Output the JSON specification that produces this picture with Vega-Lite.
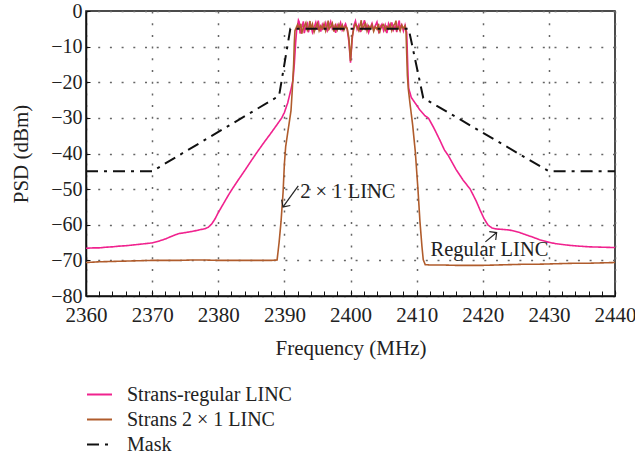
{
  "$schema": "https://vega.github.io/schema/vega-lite/v6.json",
  "width": 529,
  "height": 285,
  "autosize": {"type": "none"},
  "padding": {"left": 86, "top": 11, "right": 20, "bottom": 164},
  "background": "white",
  "config": {
    "font": "Liberation Serif",
    "view": {"stroke": "#111", "strokeWidth": 1.5},
    "axis": {"labelFont": "Liberation Serif", "titleFont": "Liberation Serif", "labelFontSize": 21, "titleFontSize": 21, "labelColor": "#222", "titleColor": "#222", "titleFontWeight": "normal", "labelFlush": false},
    "legend": {"labelFont": "Liberation Serif", "labelFontSize": 20, "labelColor": "#222", "labelLimit": 0},
    "style": {"guide-label": {"font": "Liberation Serif"}, "guide-title": {"font": "Liberation Serif"}}
  },
  "data": {"values": [
    {"series":"Strans-regular LINC","freq":2360,"psd":-66.6},{"series":"Strans-regular LINC","freq":2361,"psd":-66.5},{"series":"Strans-regular LINC","freq":2362,"psd":-66.5},{"series":"Strans-regular LINC","freq":2363,"psd":-66.3},{"series":"Strans-regular LINC","freq":2364,"psd":-66.2},{"series":"Strans-regular LINC","freq":2365,"psd":-66.0},{"series":"Strans-regular LINC","freq":2366,"psd":-65.9},{"series":"Strans-regular LINC","freq":2367,"psd":-65.7},{"series":"Strans-regular LINC","freq":2368,"psd":-65.5},{"series":"Strans-regular LINC","freq":2369,"psd":-65.3},{"series":"Strans-regular LINC","freq":2370,"psd":-65.1},{"series":"Strans-regular LINC","freq":2371,"psd":-64.6},{"series":"Strans-regular LINC","freq":2372,"psd":-64.0},{"series":"Strans-regular LINC","freq":2373,"psd":-63.2},{"series":"Strans-regular LINC","freq":2374,"psd":-62.5},{"series":"Strans-regular LINC","freq":2375,"psd":-62.2},{"series":"Strans-regular LINC","freq":2376,"psd":-61.9},{"series":"Strans-regular LINC","freq":2377,"psd":-61.5},{"series":"Strans-regular LINC","freq":2378,"psd":-61.1},{"series":"Strans-regular LINC","freq":2378.5,"psd":-60.7},{"series":"Strans-regular LINC","freq":2379,"psd":-59.8},{"series":"Strans-regular LINC","freq":2379.5,"psd":-58.4},{"series":"Strans-regular LINC","freq":2380,"psd":-56.6},{"series":"Strans-regular LINC","freq":2380.5,"psd":-55.0},{"series":"Strans-regular LINC","freq":2381,"psd":-53.4},{"series":"Strans-regular LINC","freq":2381.5,"psd":-51.8},{"series":"Strans-regular LINC","freq":2382,"psd":-50.3},{"series":"Strans-regular LINC","freq":2383,"psd":-47.5},{"series":"Strans-regular LINC","freq":2384,"psd":-44.8},{"series":"Strans-regular LINC","freq":2385,"psd":-42.0},{"series":"Strans-regular LINC","freq":2386,"psd":-39.3},{"series":"Strans-regular LINC","freq":2387,"psd":-36.7},{"series":"Strans-regular LINC","freq":2388,"psd":-34.2},{"series":"Strans-regular LINC","freq":2389,"psd":-31.6},{"series":"Strans-regular LINC","freq":2389.6,"psd":-30.0},{"series":"Strans-regular LINC","freq":2390,"psd":-28.5},{"series":"Strans-regular LINC","freq":2390.5,"psd":-25.8},{"series":"Strans-regular LINC","freq":2391,"psd":-22.0},{"series":"Strans-regular LINC","freq":2391.3,"psd":-19.5},{"series":"Strans-regular LINC","freq":2391.5,"psd":-15.0},{"series":"Strans-regular LINC","freq":2391.7,"psd":-9.0},{"series":"Strans-regular LINC","freq":2391.85,"psd":-5.5},
    {"series":"Strans-regular LINC","freq":2392,"psd":-4.2},{"series":"Strans-regular LINC","freq":2392.125,"psd":-2.6},{"series":"Strans-regular LINC","freq":2392.25,"psd":-3.1},{"series":"Strans-regular LINC","freq":2392.375,"psd":-6.3},{"series":"Strans-regular LINC","freq":2392.5,"psd":-5.6},{"series":"Strans-regular LINC","freq":2392.75,"psd":-4.0},{"series":"Strans-regular LINC","freq":2392.875,"psd":-2.9},{"series":"Strans-regular LINC","freq":2393,"psd":-6.2},{"series":"Strans-regular LINC","freq":2393.25,"psd":-4.4},{"series":"Strans-regular LINC","freq":2393.5,"psd":-3.5},{"series":"Strans-regular LINC","freq":2393.625,"psd":-6.0},{"series":"Strans-regular LINC","freq":2393.75,"psd":-5.1},{"series":"Strans-regular LINC","freq":2394,"psd":-4.0},{"series":"Strans-regular LINC","freq":2394.25,"psd":-6.0},{"series":"Strans-regular LINC","freq":2394.5,"psd":-4.6},{"series":"Strans-regular LINC","freq":2394.75,"psd":-3.2},{"series":"Strans-regular LINC","freq":2395,"psd":-5.3},{"series":"Strans-regular LINC","freq":2395.125,"psd":-2.7},{"series":"Strans-regular LINC","freq":2395.25,"psd":-4.1},{"series":"Strans-regular LINC","freq":2395.5,"psd":-5.8},{"series":"Strans-regular LINC","freq":2395.75,"psd":-3.8},{"series":"Strans-regular LINC","freq":2396,"psd":-4.9},{"series":"Strans-regular LINC","freq":2396.25,"psd":-3.4},{"series":"Strans-regular LINC","freq":2396.5,"psd":-5.5},{"series":"Strans-regular LINC","freq":2396.75,"psd":-4.3},{"series":"Strans-regular LINC","freq":2397,"psd":-3.0},{"series":"Strans-regular LINC","freq":2397.25,"psd":-5.0},{"series":"Strans-regular LINC","freq":2397.5,"psd":-4.2},{"series":"Strans-regular LINC","freq":2397.75,"psd":-6.1},{"series":"Strans-regular LINC","freq":2398,"psd":-3.9},{"series":"Strans-regular LINC","freq":2398.25,"psd":-4.8},{"series":"Strans-regular LINC","freq":2398.5,"psd":-3.3},{"series":"Strans-regular LINC","freq":2398.75,"psd":-5.4},{"series":"Strans-regular LINC","freq":2399,"psd":-4.5},{"series":"Strans-regular LINC","freq":2399.25,"psd":-3.6},{"series":"Strans-regular LINC","freq":2399.5,"psd":-5.2},{"series":"Strans-regular LINC","freq":2399.75,"psd":-8.5},{"series":"Strans-regular LINC","freq":2400,"psd":-14.5},{"series":"Strans-regular LINC","freq":2400.25,"psd":-8.0},{"series":"Strans-regular LINC","freq":2400.5,"psd":-4.1},{"series":"Strans-regular LINC","freq":2400.75,"psd":-2.8},{"series":"Strans-regular LINC","freq":2401,"psd":-5.1},{"series":"Strans-regular LINC","freq":2401.25,"psd":-3.9},{"series":"Strans-regular LINC","freq":2401.5,"psd":-5.9},{"series":"Strans-regular LINC","freq":2401.75,"psd":-4.2},{"series":"Strans-regular LINC","freq":2402,"psd":-3.3},{"series":"Strans-regular LINC","freq":2402.125,"psd":-2.6},{"series":"Strans-regular LINC","freq":2402.25,"psd":-5.4},{"series":"Strans-regular LINC","freq":2402.5,"psd":-4.0},{"series":"Strans-regular LINC","freq":2402.75,"psd":-6.0},{"series":"Strans-regular LINC","freq":2403,"psd":-4.6},{"series":"Strans-regular LINC","freq":2403.25,"psd":-3.5},{"series":"Strans-regular LINC","freq":2403.5,"psd":-5.2},{"series":"Strans-regular LINC","freq":2403.75,"psd":-4.1},{"series":"Strans-regular LINC","freq":2404,"psd":-3.1},{"series":"Strans-regular LINC","freq":2404.25,"psd":-5.7},{"series":"Strans-regular LINC","freq":2404.5,"psd":-4.4},{"series":"Strans-regular LINC","freq":2404.75,"psd":-3.7},{"series":"Strans-regular LINC","freq":2405,"psd":-5.5},{"series":"Strans-regular LINC","freq":2405.25,"psd":-4.0},{"series":"Strans-regular LINC","freq":2405.5,"psd":-6.2},{"series":"Strans-regular LINC","freq":2405.75,"psd":-3.6},{"series":"Strans-regular LINC","freq":2406,"psd":-4.8},{"series":"Strans-regular LINC","freq":2406.25,"psd":-3.2},{"series":"Strans-regular LINC","freq":2406.5,"psd":-5.3},{"series":"Strans-regular LINC","freq":2406.75,"psd":-4.2},{"series":"Strans-regular LINC","freq":2407,"psd":-5.9},{"series":"Strans-regular LINC","freq":2407.25,"psd":-3.4},{"series":"Strans-regular LINC","freq":2407.375,"psd":-2.7},{"series":"Strans-regular LINC","freq":2407.5,"psd":-4.9},{"series":"Strans-regular LINC","freq":2407.75,"psd":-3.9},{"series":"Strans-regular LINC","freq":2408,"psd":-5.6},{"series":"Strans-regular LINC","freq":2408.25,"psd":-4.0},
    {"series":"Strans-regular LINC","freq":2408.5,"psd":-6.0},{"series":"Strans-regular LINC","freq":2408.6,"psd":-12.0},{"series":"Strans-regular LINC","freq":2408.7,"psd":-18.0},{"series":"Strans-regular LINC","freq":2408.8,"psd":-21.7},{"series":"Strans-regular LINC","freq":2409.2,"psd":-24.3},{"series":"Strans-regular LINC","freq":2409.8,"psd":-25.9},{"series":"Strans-regular LINC","freq":2410.5,"psd":-27.8},{"series":"Strans-regular LINC","freq":2411.2,"psd":-29.3},{"series":"Strans-regular LINC","freq":2411.8,"psd":-30.1},{"series":"Strans-regular LINC","freq":2412.6,"psd":-32.8},{"series":"Strans-regular LINC","freq":2413.5,"psd":-36.2},{"series":"Strans-regular LINC","freq":2414.2,"psd":-39.0},{"series":"Strans-regular LINC","freq":2414.8,"psd":-40.6},{"series":"Strans-regular LINC","freq":2416,"psd":-44.6},{"series":"Strans-regular LINC","freq":2417,"psd":-47.4},{"series":"Strans-regular LINC","freq":2418.1,"psd":-50.0},{"series":"Strans-regular LINC","freq":2419,"psd":-53.3},{"series":"Strans-regular LINC","freq":2419.6,"psd":-55.9},{"series":"Strans-regular LINC","freq":2420.2,"psd":-58.3},{"series":"Strans-regular LINC","freq":2420.8,"psd":-60.1},{"series":"Strans-regular LINC","freq":2421.4,"psd":-60.9},{"series":"Strans-regular LINC","freq":2422.1,"psd":-61.2},{"series":"Strans-regular LINC","freq":2423,"psd":-61.3},{"series":"Strans-regular LINC","freq":2424.1,"psd":-61.5},{"series":"Strans-regular LINC","freq":2425,"psd":-61.9},{"series":"Strans-regular LINC","freq":2425.6,"psd":-62.2},{"series":"Strans-regular LINC","freq":2426.5,"psd":-62.8},{"series":"Strans-regular LINC","freq":2427.6,"psd":-63.5},{"series":"Strans-regular LINC","freq":2428.6,"psd":-64.2},{"series":"Strans-regular LINC","freq":2429.7,"psd":-64.8},{"series":"Strans-regular LINC","freq":2431,"psd":-65.3},{"series":"Strans-regular LINC","freq":2432.7,"psd":-65.7},{"series":"Strans-regular LINC","freq":2434.5,"psd":-66.0},{"series":"Strans-regular LINC","freq":2436.2,"psd":-66.2},{"series":"Strans-regular LINC","freq":2438,"psd":-66.3},{"series":"Strans-regular LINC","freq":2440,"psd":-66.4},

    {"series":"Strans 2 × 1 LINC","freq":2360,"psd":-70.6},{"series":"Strans 2 × 1 LINC","freq":2362,"psd":-70.4},{"series":"Strans 2 × 1 LINC","freq":2364,"psd":-70.3},{"series":"Strans 2 × 1 LINC","freq":2366,"psd":-70.2},{"series":"Strans 2 × 1 LINC","freq":2368,"psd":-70.1},{"series":"Strans 2 × 1 LINC","freq":2370,"psd":-70.0},{"series":"Strans 2 × 1 LINC","freq":2372,"psd":-70.0},{"series":"Strans 2 × 1 LINC","freq":2374,"psd":-70.0},{"series":"Strans 2 × 1 LINC","freq":2376,"psd":-69.9},{"series":"Strans 2 × 1 LINC","freq":2378,"psd":-69.9},{"series":"Strans 2 × 1 LINC","freq":2380,"psd":-70.0},{"series":"Strans 2 × 1 LINC","freq":2382,"psd":-70.0},{"series":"Strans 2 × 1 LINC","freq":2384,"psd":-70.0},{"series":"Strans 2 × 1 LINC","freq":2386,"psd":-70.0},{"series":"Strans 2 × 1 LINC","freq":2388,"psd":-70.0},{"series":"Strans 2 × 1 LINC","freq":2388.9,"psd":-69.9},{"series":"Strans 2 × 1 LINC","freq":2389.2,"psd":-65.0},{"series":"Strans 2 × 1 LINC","freq":2389.5,"psd":-59.0},{"series":"Strans 2 × 1 LINC","freq":2389.8,"psd":-51.0},{"series":"Strans 2 × 1 LINC","freq":2390.0,"psd":-43.0},{"series":"Strans 2 × 1 LINC","freq":2390.2,"psd":-38.0},{"series":"Strans 2 × 1 LINC","freq":2390.6,"psd":-33.0},{"series":"Strans 2 × 1 LINC","freq":2391.0,"psd":-28.0},{"series":"Strans 2 × 1 LINC","freq":2391.2,"psd":-22.0},{"series":"Strans 2 × 1 LINC","freq":2391.4,"psd":-15.0},{"series":"Strans 2 × 1 LINC","freq":2391.5,"psd":-9.0},{"series":"Strans 2 × 1 LINC","freq":2391.6,"psd":-5.5},
    {"series":"Strans 2 × 1 LINC","freq":2392,"psd":-3.8},{"series":"Strans 2 × 1 LINC","freq":2392.25,"psd":-5.0},{"series":"Strans 2 × 1 LINC","freq":2392.5,"psd":-3.6},{"series":"Strans 2 × 1 LINC","freq":2392.625,"psd":-6.4},{"series":"Strans 2 × 1 LINC","freq":2392.75,"psd":-5.4},{"series":"Strans 2 × 1 LINC","freq":2393,"psd":-4.3},{"series":"Strans 2 × 1 LINC","freq":2393.25,"psd":-3.3},{"series":"Strans 2 × 1 LINC","freq":2393.5,"psd":-5.7},{"series":"Strans 2 × 1 LINC","freq":2393.75,"psd":-4.1},{"series":"Strans 2 × 1 LINC","freq":2393.875,"psd":-2.8},{"series":"Strans 2 × 1 LINC","freq":2394,"psd":-5.2},{"series":"Strans 2 × 1 LINC","freq":2394.25,"psd":-3.7},{"series":"Strans 2 × 1 LINC","freq":2394.5,"psd":-5.9},{"series":"Strans 2 × 1 LINC","freq":2394.75,"psd":-4.5},{"series":"Strans 2 × 1 LINC","freq":2395,"psd":-3.5},{"series":"Strans 2 × 1 LINC","freq":2395.25,"psd":-5.5},{"series":"Strans 2 × 1 LINC","freq":2395.5,"psd":-4.2},{"series":"Strans 2 × 1 LINC","freq":2395.75,"psd":-5.0},{"series":"Strans 2 × 1 LINC","freq":2396,"psd":-3.6},{"series":"Strans 2 × 1 LINC","freq":2396.25,"psd":-5.6},{"series":"Strans 2 × 1 LINC","freq":2396.5,"psd":-4.0},{"series":"Strans 2 × 1 LINC","freq":2396.625,"psd":-2.7},{"series":"Strans 2 × 1 LINC","freq":2396.75,"psd":-5.1},{"series":"Strans 2 × 1 LINC","freq":2397,"psd":-4.4},{"series":"Strans 2 × 1 LINC","freq":2397.25,"psd":-3.4},{"series":"Strans 2 × 1 LINC","freq":2397.5,"psd":-5.8},{"series":"Strans 2 × 1 LINC","freq":2397.75,"psd":-4.0},{"series":"Strans 2 × 1 LINC","freq":2398,"psd":-5.3},{"series":"Strans 2 × 1 LINC","freq":2398.25,"psd":-3.8},{"series":"Strans 2 × 1 LINC","freq":2398.5,"psd":-5.0},{"series":"Strans 2 × 1 LINC","freq":2398.75,"psd":-3.9},{"series":"Strans 2 × 1 LINC","freq":2399,"psd":-5.4},{"series":"Strans 2 × 1 LINC","freq":2399.25,"psd":-4.3},{"series":"Strans 2 × 1 LINC","freq":2399.5,"psd":-4.9},{"series":"Strans 2 × 1 LINC","freq":2399.75,"psd":-7.5},{"series":"Strans 2 × 1 LINC","freq":2400,"psd":-14.0},{"series":"Strans 2 × 1 LINC","freq":2400.25,"psd":-7.2},{"series":"Strans 2 × 1 LINC","freq":2400.5,"psd":-5.0},{"series":"Strans 2 × 1 LINC","freq":2400.75,"psd":-3.6},{"series":"Strans 2 × 1 LINC","freq":2401,"psd":-4.4},{"series":"Strans 2 × 1 LINC","freq":2401.25,"psd":-5.5},{"series":"Strans 2 × 1 LINC","freq":2401.5,"psd":-3.7},{"series":"Strans 2 × 1 LINC","freq":2401.625,"psd":-2.6},{"series":"Strans 2 × 1 LINC","freq":2401.75,"psd":-5.2},{"series":"Strans 2 × 1 LINC","freq":2402,"psd":-4.3},{"series":"Strans 2 × 1 LINC","freq":2402.25,"psd":-3.5},{"series":"Strans 2 × 1 LINC","freq":2402.5,"psd":-5.6},{"series":"Strans 2 × 1 LINC","freq":2402.75,"psd":-4.2},{"series":"Strans 2 × 1 LINC","freq":2403,"psd":-5.0},{"series":"Strans 2 × 1 LINC","freq":2403.25,"psd":-3.9},{"series":"Strans 2 × 1 LINC","freq":2403.5,"psd":-5.7},{"series":"Strans 2 × 1 LINC","freq":2403.75,"psd":-4.4},{"series":"Strans 2 × 1 LINC","freq":2404,"psd":-5.1},{"series":"Strans 2 × 1 LINC","freq":2404.25,"psd":-3.6},{"series":"Strans 2 × 1 LINC","freq":2404.375,"psd":-6.3},{"series":"Strans 2 × 1 LINC","freq":2404.5,"psd":-5.3},{"series":"Strans 2 × 1 LINC","freq":2404.75,"psd":-4.1},{"series":"Strans 2 × 1 LINC","freq":2405,"psd":-3.8},{"series":"Strans 2 × 1 LINC","freq":2405.25,"psd":-5.4},{"series":"Strans 2 × 1 LINC","freq":2405.5,"psd":-4.3},{"series":"Strans 2 × 1 LINC","freq":2405.75,"psd":-5.0},{"series":"Strans 2 × 1 LINC","freq":2406,"psd":-3.7},{"series":"Strans 2 × 1 LINC","freq":2406.25,"psd":-5.5},{"series":"Strans 2 × 1 LINC","freq":2406.5,"psd":-4.1},{"series":"Strans 2 × 1 LINC","freq":2406.75,"psd":-3.5},{"series":"Strans 2 × 1 LINC","freq":2406.875,"psd":-2.7},{"series":"Strans 2 × 1 LINC","freq":2407,"psd":-5.2},{"series":"Strans 2 × 1 LINC","freq":2407.25,"psd":-4.4},{"series":"Strans 2 × 1 LINC","freq":2407.5,"psd":-5.6},{"series":"Strans 2 × 1 LINC","freq":2407.75,"psd":-4.0},{"series":"Strans 2 × 1 LINC","freq":2408,"psd":-4.9},{"series":"Strans 2 × 1 LINC","freq":2408.25,"psd":-4.2},
    {"series":"Strans 2 × 1 LINC","freq":2408.4,"psd":-6.0},{"series":"Strans 2 × 1 LINC","freq":2408.5,"psd":-12.0},{"series":"Strans 2 × 1 LINC","freq":2408.6,"psd":-18.0},{"series":"Strans 2 × 1 LINC","freq":2408.75,"psd":-22.0},{"series":"Strans 2 × 1 LINC","freq":2409.0,"psd":-26.0},{"series":"Strans 2 × 1 LINC","freq":2409.4,"psd":-32.0},{"series":"Strans 2 × 1 LINC","freq":2409.8,"psd":-39.5},{"series":"Strans 2 × 1 LINC","freq":2410.2,"psd":-50.0},{"series":"Strans 2 × 1 LINC","freq":2410.5,"psd":-59.0},{"series":"Strans 2 × 1 LINC","freq":2410.8,"psd":-66.0},{"series":"Strans 2 × 1 LINC","freq":2411.0,"psd":-69.8},{"series":"Strans 2 × 1 LINC","freq":2411.3,"psd":-71.2},{"series":"Strans 2 × 1 LINC","freq":2412,"psd":-71.3},{"series":"Strans 2 × 1 LINC","freq":2414,"psd":-71.3},{"series":"Strans 2 × 1 LINC","freq":2416,"psd":-71.4},{"series":"Strans 2 × 1 LINC","freq":2418,"psd":-71.4},{"series":"Strans 2 × 1 LINC","freq":2420,"psd":-71.4},{"series":"Strans 2 × 1 LINC","freq":2422,"psd":-71.3},{"series":"Strans 2 × 1 LINC","freq":2424,"psd":-71.2},{"series":"Strans 2 × 1 LINC","freq":2426,"psd":-71.1},{"series":"Strans 2 × 1 LINC","freq":2428,"psd":-71.1},{"series":"Strans 2 × 1 LINC","freq":2430,"psd":-71.0},{"series":"Strans 2 × 1 LINC","freq":2432,"psd":-70.9},{"series":"Strans 2 × 1 LINC","freq":2434,"psd":-70.8},{"series":"Strans 2 × 1 LINC","freq":2436,"psd":-70.8},{"series":"Strans 2 × 1 LINC","freq":2438,"psd":-70.7},{"series":"Strans 2 × 1 LINC","freq":2440,"psd":-70.6},

    {"series":"Mask","freq":2360,"psd":-45},{"series":"Mask","freq":2370,"psd":-45},{"series":"Mask","freq":2389.2,"psd":-23.8},{"series":"Mask","freq":2390.9,"psd":-5},{"series":"Mask","freq":2408.8,"psd":-5},{"series":"Mask","freq":2411,"psd":-24.4},{"series":"Mask","freq":2430,"psd":-45},{"series":"Mask","freq":2440,"psd":-45}
  ]},
  "encoding": {
    "y": {"field": "psd", "type": "quantitative", "scale": {"domain": [-80, 0], "nice": false},
      "axis": {"title": "PSD (dBm)", "values": [-80,-70,-60,-50,-40,-30,-20,-10,0], "labelFont": "Liberation Serif", "titleFont": "Liberation Serif", "labelFontSize": 20, "grid": true, "gridDash": [2, 9.7], "gridColor": "#666", "gridWidth": 1.5, "tickSize": -4, "tickColor": "#111", "labelPadding": 8, "titlePadding": 19, "domainColor": "#111", "domainWidth": 1.5}}
  },
  "layer": [
    {
      "transform": [{"filter": "datum.series === 'Strans-regular LINC'"}],
      "mark": {"type": "line", "strokeWidth": 1.6},
      "encoding": {
        "x": {"field": "freq", "type": "quantitative", "scale": {"domain": [2360, 2440], "nice": false},
          "axis": {"title": "Frequency (MHz)", "format": "d", "labelFont": "Liberation Serif", "titleFont": "Liberation Serif", "values": [2360,2370,2380,2390,2400,2410,2420,2430,2440], "grid": true, "gridDash": [2, 9.7], "gridColor": "#666", "gridWidth": 1.5, "tickSize": -6, "tickColor": "#111", "labelPadding": 14, "titlePadding": 12, "domainColor": "#111", "domainWidth": 1.5}},
        "color": {"field": "series", "type": "nominal", "scale": {"domain": ["Strans-regular LINC", "Strans 2 × 1 LINC", "Mask"], "range": ["#f0228e", "#b05c2c", "#111111"]},
          "legend": {"title": null, "orient": "none", "legendX": 0, "legendY": 370, "labelFont": "Liberation Serif", "symbolType": "stroke", "symbolSize": 625, "symbolStrokeWidth": 2, "labelOffset": 14, "rowPadding": 1, "padding": 0}},
        "strokeDash": {"field": "series", "type": "nominal", "scale": {"domain": ["Strans-regular LINC", "Strans 2 × 1 LINC", "Mask"], "range": [[1, 0], [1, 0], [12, 6, 3, 6]]},
          "legend": {"title": null, "orient": "none", "legendX": 0, "legendY": 370, "labelFont": "Liberation Serif", "symbolType": "stroke", "symbolSize": 625, "symbolStrokeWidth": 2, "labelOffset": 14, "rowPadding": 1, "padding": 0}}
      }
    },
    {
      "transform": [{"filter": "datum.series === 'Strans 2 × 1 LINC'"}],
      "mark": {"type": "line", "strokeWidth": 1.6},
      "encoding": {
        "x": {"field": "freq", "type": "quantitative", "axis": {"orient": "bottom", "title": null, "labels": false, "domain": false, "grid": false, "tickSize": -5, "tickColor": "#111", "values": [2362,2364,2366,2368,2372,2374,2376,2378,2382,2384,2386,2388,2392,2394,2396,2398,2402,2404,2406,2408,2412,2414,2416,2418,2422,2424,2426,2428,2432,2434,2436,2438]}},
        "color": {"field": "series", "type": "nominal"},
        "strokeDash": {"field": "series", "type": "nominal"}
      }
    },
    {
      "transform": [{"filter": "datum.series === 'Mask'"}],
      "mark": {"type": "line", "strokeWidth": 2},
      "encoding": {
        "x": {"field": "freq", "type": "quantitative", "axis": null},
        "color": {"field": "series", "type": "nominal"},
        "strokeDash": {"field": "series", "type": "nominal"}
      }
    },
    {
      "transform": [{"filter": "datum.series === 'Mask' && datum.freq === 2360"}],
      "mark": {"type": "text", "align": "left", "baseline": "middle", "fontSize": 20.5, "font": "Liberation Serif", "color": "#222"},
      "encoding": {"x": {"datum": 2392.4, "type": "quantitative", "axis": null}, "y": {"datum": -50.7, "type": "quantitative"}, "text": {"value": "2 × 1 LINC"}}
    },
    {
      "transform": [{"filter": "datum.series === 'Mask' && datum.freq === 2360"}],
      "mark": {"type": "text", "align": "left", "baseline": "middle", "fontSize": 20.5, "font": "Liberation Serif", "color": "#222"},
      "encoding": {"x": {"datum": 2412.1, "type": "quantitative", "axis": null}, "y": {"datum": -67.1, "type": "quantitative"}, "text": {"value": "Regular LINC"}}
    },
    {
      "transform": [{"filter": "datum.series === 'Mask' && datum.freq === 2360"}],
      "mark": {"type": "rule", "color": "#222", "strokeWidth": 1.2},
      "encoding": {"x": {"datum": 2392.1, "type": "quantitative", "axis": null}, "y": {"datum": -49.1, "type": "quantitative"}, "x2": {"datum": 2389.8}, "y2": {"datum": -55.0}}
    },
    {
      "transform": [{"filter": "datum.series === 'Mask' && datum.freq === 2360"}],
      "mark": {"type": "rule", "color": "#222", "strokeWidth": 1.2},
      "encoding": {"x": {"datum": 2420.4, "type": "quantitative", "axis": null}, "y": {"datum": -64.8, "type": "quantitative"}, "x2": {"datum": 2422.1}, "y2": {"datum": -62.2}}
    },
    {
      "transform": [{"filter": "datum.series === 'Mask' && datum.freq === 2360"}],
      "mark": {"type": "point", "shape": "M -1 1 L 0 0 L 1 1", "filled": false, "stroke": "#222", "strokeWidth": 1.2, "size": 110, "angle": 214, "opacity": 1},
      "encoding": {"x": {"datum": 2389.8, "type": "quantitative", "axis": null}, "y": {"datum": -55.0, "type": "quantitative"}}
    },
    {
      "transform": [{"filter": "datum.series === 'Mask' && datum.freq === 2360"}],
      "mark": {"type": "point", "shape": "M -1 1 L 0 0 L 1 1", "filled": false, "stroke": "#222", "strokeWidth": 1.2, "size": 110, "angle": 52, "opacity": 1},
      "encoding": {"x": {"datum": 2422.1, "type": "quantitative", "axis": null}, "y": {"datum": -62.2, "type": "quantitative"}}
    }
  ],
  "resolve": {"axis": {"x": "independent"}}
}
